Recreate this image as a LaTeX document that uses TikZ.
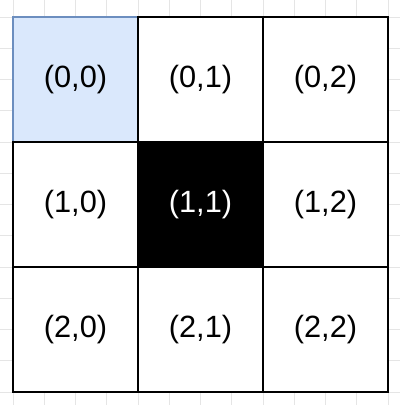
\documentclass[tikz,border=0pt]{standalone}
\usepackage{fontspec}
\setmainfont{Liberation Sans}
\definecolor{startfill}{HTML}{DAE8FC}
\definecolor{startdraw}{HTML}{6C8EBF}
\tikzset{
  cell/.style={draw=black,line width=1.6pt,fill=white,minimum size=2.5cm,
    inner sep=0pt,font=\fontsize{17.5}{21}\selectfont},
  startcell/.style={cell,draw=startdraw,fill=startfill},
  wallcell/.style={cell,fill=black,text=white},
}
\begin{document}
\begin{tikzpicture}
  \useasboundingbox (-0.26,-7.76) rectangle (7.74,0.34);
  \draw[gray!20,line width=0.5pt,step=0.625] (-0.26,-7.76) grid (7.74,0.34);
  %% Cells
  \foreach \r/\c/\kind in {0/0/startcell,0/1/cell,0/2/cell,
                           1/0/cell,1/1/wallcell,1/2/cell,
                           2/0/cell,2/1/cell,2/2/cell}
    \node[\kind] (c\r\c) at (1.25+2.5*\c,-1.25-2.5*\r) {(\r,\c)};
\end{tikzpicture}
\end{document}
